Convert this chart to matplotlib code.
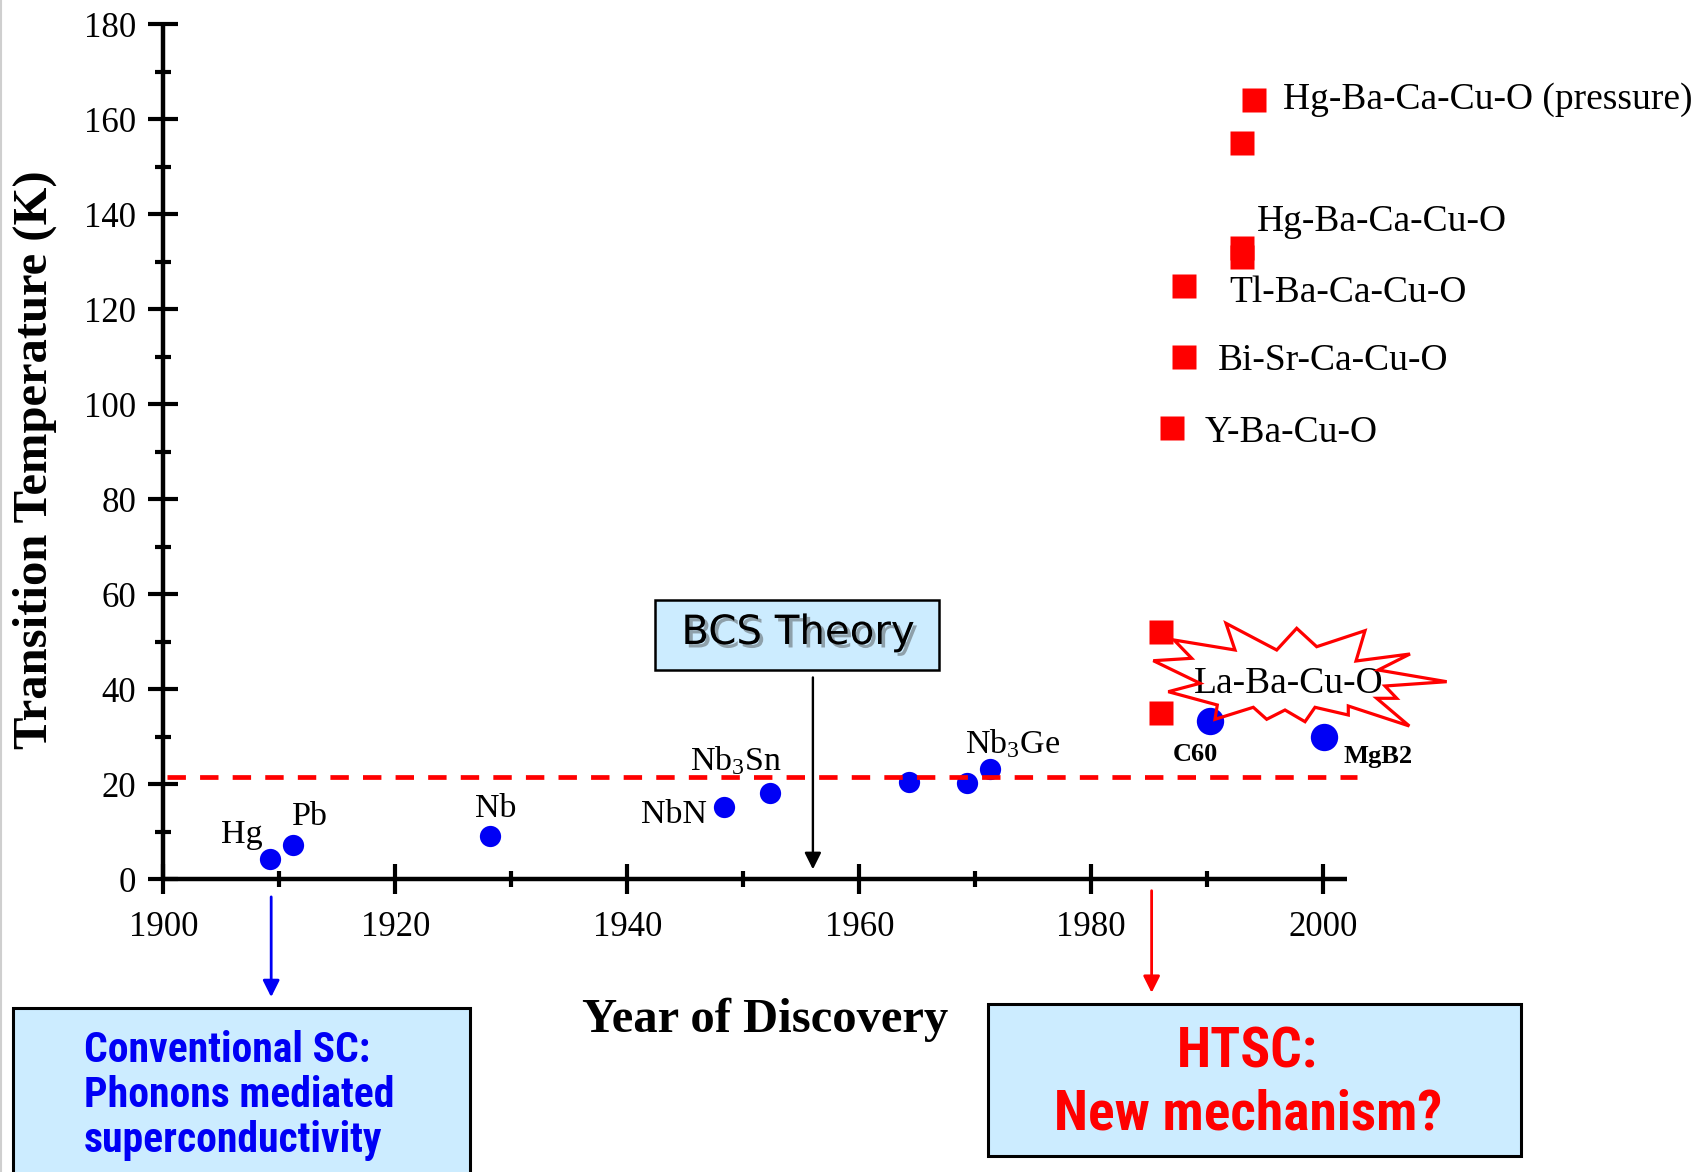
import matplotlib
matplotlib.use('Agg')
import matplotlib.pyplot as plt
import matplotlib.patheffects as pe
from matplotlib.patches import Rectangle, Polygon
from matplotlib.lines import Line2D
from matplotlib.ticker import MultipleLocator
from matplotlib import font_manager as fm

# ---------------- data ----------------
conv_year = [1909.2, 1911.2, 1928.2, 1948.3, 1952.3, 1964.3, 1969.3, 1971.3]
conv_tc = [4.2, 7.2, 9.2, 15.2, 18.1, 20.5, 20.3, 23.3]
big_year = [1990.2, 2000.1]          # C60, MgB2
big_tc = [33.4, 30.0]
cup_year = [1986.0, 1986.0, 1987.0, 1988.0, 1988.0, 1993.0, 1993.0, 1993.0, 1994.0]
cup_tc = [35, 52, 95, 110, 125, 131, 133, 155, 164]
bcs_limit = 21.6
bcs_year = 1956.0
conv_arrow_year = 1909.3
htsc_arrow_year = 1985.2

x_ticks = [1900, 1920, 1940, 1960, 1980, 2000]
y_ticks = [0, 20, 40, 60, 80, 100, 120, 140, 160, 180]

# labels: text, (x, y) anchor (left, baseline) in data units, size, weight
point_labels = [
    ("Hg", (1904.95, 7.7), 24.5, 'normal'),
    ("Pb", (1911.07, 11.4), 24.5, 'normal'),
    ("Nb", (1926.87, 13.1), 24.5, 'normal'),
    ("NbN", (1941.16, 11.8), 24.5, 'normal'),
    ("Nb$_\\mathrm{3}$Sn", (1945.4, 22.9), 24.5, 'normal'),
    ("Nb$_\\mathrm{3}$Ge", (1969.1, 26.6), 24.5, 'normal'),
    ("C60", (1987.0, 24.8), 19, 'bold'),
    ("MgB2", (2001.7, 24.4), 19, 'bold'),
    ("La-Ba-Cu-O", (1988.8, 39.2), 27, 'normal'),
    ("Y-Ba-Cu-O", (1989.8, 92.1), 27, 'normal'),
    ("Bi-Sr-Ca-Cu-O", (1990.95, 107.2), 27, 'normal'),
    ("Tl-Ba-Ca-Cu-O", (1991.9, 121.6), 27, 'normal'),
    ("Hg-Ba-Ca-Cu-O", (1994.26, 136.55), 27, 'normal'),
    ("Hg-Ba-Ca-Cu-O (pressure)", (1996.55, 162.1), 27, 'normal'),
]

# ---------------- layout helpers ----------------
W, H = 1697, 1172
DPI = 100
def fx(x):
    return x / W
def fy(y):
    return 1 - y / H

plt.rcParams['font.family'] = ['Liberation Serif', 'DejaVu Serif']
plt.rcParams['mathtext.fontset'] = 'custom'
plt.rcParams['mathtext.rm'] = 'Liberation Serif'
plt.rcParams['mathtext.it'] = 'Liberation Serif:italic'
plt.rcParams['mathtext.bf'] = 'Liberation Serif:bold'

def has_font(name):
    try:
        fm.findfont(fm.FontProperties(family=name), fallback_to_default=False)
        return True
    except Exception:
        return False

narrow = None
for cand in ['Liberation Sans Narrow', 'Roboto Condensed', 'Open Sans Condensed']:
    if has_font(cand):
        narrow = cand
        break
if narrow:
    box_font = [narrow, 'DejaVu Sans']
    htsc_size, conv_size = 40, 30
else:
    box_font = ['DejaVu Sans']
    htsc_size, conv_size = 29, 21

BLUE = '#0000F5'
RED = '#FF0000'
BOXC = '#CCECFF'

fig = plt.figure(figsize=(W / DPI, H / DPI), dpi=DPI)
ax_l, ax_r, ax_b, ax_t = 163.3, 1346.7, 879.3, 24.3
ax = fig.add_axes([fx(ax_l), fy(ax_b), (ax_r - ax_l) / W, (ax_b - ax_t) / H])
px_per_year = 11.6
ax.set_xlim(1900, 1900 + (ax_r - ax_l) / px_per_year)
ax.set_ylim(0, 180)
ax.set_facecolor('none')

for s in ['top', 'right']:
    ax.spines[s].set_visible(False)
for s in ['left', 'bottom']:
    ax.spines[s].set_linewidth(3.2)
    ax.spines[s].set_capstyle('butt')

ax.set_xticks(x_ticks)
ax.set_yticks(y_ticks)
ax.xaxis.set_minor_locator(MultipleLocator(10))
ax.yaxis.set_minor_locator(MultipleLocator(10))
ax.tick_params(which='major', direction='inout', length=21, width=3, labelsize=25)
ax.tick_params(which='minor', direction='inout', length=11, width=3)
ax.tick_params(axis='y', which='major', pad=8.9)
ax.tick_params(axis='x', which='major', pad=12.0)

# dashed BCS limit line
ax.hlines(bcs_limit, 1900.3, 2002.9, colors=RED, linewidth=3.4,
          linestyles=(0, (3.9, 3.0)), clip_on=False, zorder=4)

# data marks
ax.plot(conv_year, conv_tc, 'o', ms=15.3, color=BLUE, mec='none', ls='none',
        clip_on=False, zorder=3)
ax.plot(big_year, big_tc, 'o', ms=19.7, color=BLUE, mec='none', ls='none',
        clip_on=False, zorder=3)
ax.plot(cup_year, cup_tc, 's', ms=16.8, color=RED, mec='none', ls='none',
        clip_on=False, zorder=3)

for txt, (x, y), size, weight in point_labels:
    ax.text(x, y, txt, fontsize=size, fontweight=weight, ha='left',
            va='baseline', zorder=6)

# starburst around La-Ba-Cu-O (pixel vertices of the decoration)
star_px = [(1174.0, 640.0), (1235.0, 650.0), (1226.0, 623.3), (1276.7, 650.0),
           (1296.7, 628.3), (1316.7, 646.7), (1365.0, 630.7), (1356.0, 661.0),
           (1410.0, 654.0), (1378.3, 670.0), (1446.7, 681.7), (1385.0, 686.0),
           (1396.7, 698.3), (1376.7, 698.3), (1409.3, 726.0), (1348.3, 706.0),
           (1348.3, 715.0), (1315.0, 707.3), (1305.0, 721.7), (1285.0, 710.0),
           (1266.7, 719.3), (1253.3, 707.3), (1215.0, 719.3), (1217.3, 705.0),
           (1168.3, 691.7), (1200.0, 683.3), (1153.3, 660.7), (1191.7, 658.3)]
star = Polygon([(fx(x), fy(y)) for x, y in star_px], closed=True,
               transform=fig.transFigure, facecolor='none', edgecolor=RED,
               linewidth=2.3, joinstyle='miter', zorder=5)
fig.add_artist(star)

# arrows
arrow_kw = dict(arrowstyle='-|>,head_length=1.0,head_width=0.5', shrinkA=0,
                shrinkB=0, mutation_scale=10)
ax.annotate('', xy=(bcs_year, 2.1), xytext=(bcs_year, 42.5),
            arrowprops=dict(color='black', lw=1.7, **arrow_kw),
            annotation_clip=False)
ax.annotate('', xy=(conv_arrow_year, -24.8), xytext=(conv_arrow_year, -3.7),
            arrowprops=dict(color=BLUE, lw=2.0, **arrow_kw),
            annotation_clip=False)
ax.annotate('', xy=(htsc_arrow_year, -23.9), xytext=(htsc_arrow_year, -2.4),
            arrowprops=dict(color=RED, lw=2.0, **arrow_kw),
            annotation_clip=False)

# axis titles
fig.text(fx(765.5), fy(1031.7), 'Year of Discovery', fontsize=35,
         fontweight='bold', ha='center', va='baseline')
fig.text(fx(35), fy(460), 'Transition Temperature (K)', fontsize=35,
         fontweight='bold', rotation=90, ha='center', va='center')

# boxes
def box(x0, y0, x1, y1, lw):
    r = Rectangle((fx(x0), fy(y1)), (x1 - x0) / W, (y1 - y0) / H,
                  transform=fig.transFigure, facecolor=BOXC, edgecolor='black',
                  linewidth=lw, zorder=1)
    fig.add_artist(r)

box(655, 600, 939, 670, 1.8)
box(988, 1004, 1521, 1156, 2.2)
box(13, 1008, 470, 1240, 2.2)

fig.text(fx(798), fy(633), 'BCS Theory', fontsize=29, family=['DejaVu Sans'],
         ha='center', va='center', zorder=7,
         path_effects=[pe.withSimplePatchShadow(offset=(2.5, -2.5),
                                                shadow_rgbFace='#444444',
                                                alpha=0.45)])
fig.text(fx(1247), fy(1068), 'HTSC:', fontsize=htsc_size, family=box_font,
         fontweight='bold', color=RED, ha='center', va='baseline', zorder=7)
fig.text(fx(1248), fy(1129), 'New mechanism?', fontsize=htsc_size,
         family=box_font, fontweight='bold', color=RED, ha='center',
         va='baseline', zorder=7)
for i, line in enumerate(['Conventional SC:', 'Phonons mediated',
                          'superconductivity']):
    fig.text(fx(84), fy(1061.7 + 45 * i), line, fontsize=conv_size,
             family=box_font, fontweight='bold', color=BLUE, ha='left',
             va='baseline', zorder=7)

# faint left page edge
fig.add_artist(Line2D([fx(1), fx(1)], [0, 1], transform=fig.transFigure,
                      color='#cfcfcf', linewidth=1.5))

fig.savefig('out.png', dpi=DPI)
